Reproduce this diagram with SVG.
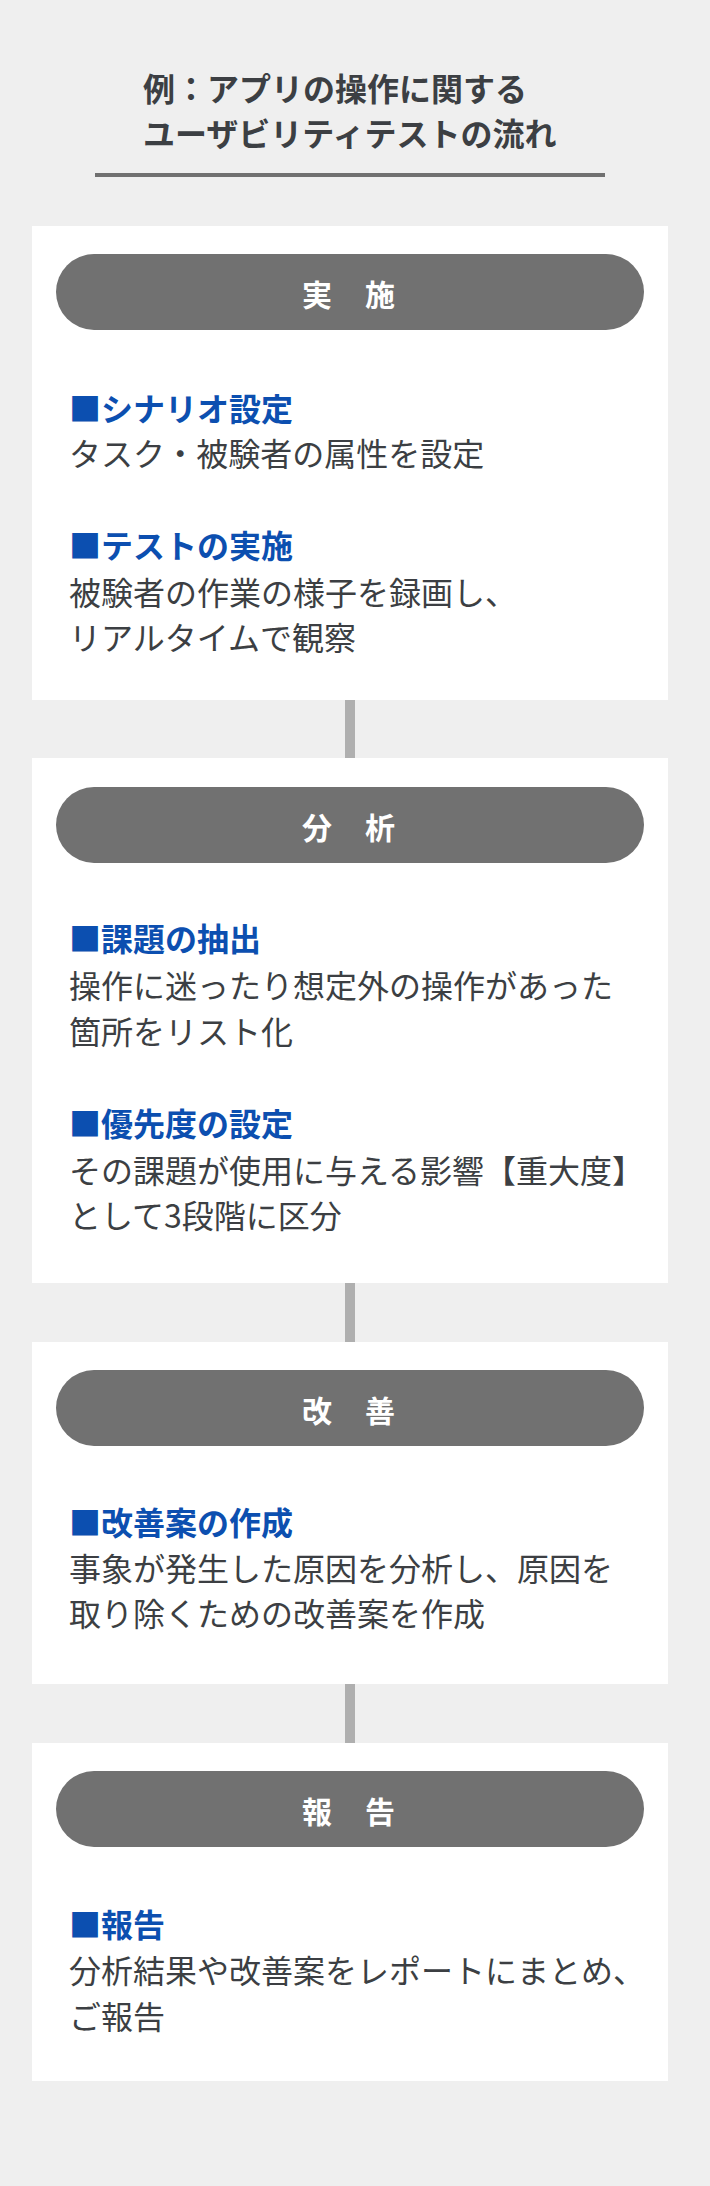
<svg xmlns="http://www.w3.org/2000/svg" width="710" height="2186" viewBox="0 0 710 2186">
<style>
.bg{fill:#efefef}
.card{fill:#ffffff}
.pill{fill:#717171}
.plabel{font-family:"Noto Sans CJK JP","Noto Sans",sans-serif;font-size:30px;font-weight:700;fill:#ffffff;letter-spacing:1.5px}
.title{font-family:"Noto Sans CJK JP","Noto Sans",sans-serif;font-size:32px;font-weight:700;fill:#3c3f43}
.head{font-family:"Noto Sans CJK JP","Noto Sans",sans-serif;font-size:32px;font-weight:700;fill:#0c4fb0}
.body{font-family:"Noto Sans CJK JP","Noto Sans",sans-serif;font-size:32px;font-weight:400;fill:#3c3f43}
.conn{stroke:#afafaf;stroke-width:10}
</style>
<rect class="bg" x="0" y="0" width="710" height="2186"/>
<g id="title">
<text class="title" x="143" y="101">例：アプリの操作に関する</text>
<text class="title" x="143" y="146">ユーザビリティテストの流れ</text>
<rect x="95" y="173" width="510" height="4" fill="#707070"/>
</g>
<g id="connectors">
<line class="conn" x1="350" y1="700" x2="350" y2="758"/>
<line class="conn" x1="350" y1="1283" x2="350" y2="1342"/>
<line class="conn" x1="350" y1="1684" x2="350" y2="1743"/>
</g>
<g id="step1">
<rect class="card" x="32" y="226" width="636" height="474"/>
<rect class="pill" x="56" y="254" width="588" height="76" rx="38"/>
<text class="plabel" x="302" y="306">実　施</text>
<text class="head" x="69" y="421">■シナリオ設定</text>
<text class="body" x="69" y="466">タスク・被験者の属性を設定</text>
<text class="head" x="69" y="558">■テストの実施</text>
<text class="body" x="69" y="605">被験者の作業の様子を録画し、</text>
<text class="body" x="69" y="650">リアルタイムで観察</text>
</g>
<g id="step2">
<rect class="card" x="32" y="758" width="636" height="525"/>
<rect class="pill" x="56" y="787" width="588" height="76" rx="38"/>
<text class="plabel" x="302" y="839">分　析</text>
<text class="head" x="69" y="951">■課題の抽出</text>
<text class="body" x="69" y="998">操作に迷ったり想定外の操作があった</text>
<text class="body" x="69" y="1044">箇所をリスト化</text>
<text class="head" x="69" y="1136">■優先度の設定</text>
<text class="body" x="69" y="1183">その課題が使用に与える影響【重大度】</text>
<text class="body" x="69" y="1228">として3段階に区分</text>
</g>
<g id="step3">
<rect class="card" x="32" y="1342" width="636" height="342"/>
<rect class="pill" x="56" y="1370" width="588" height="76" rx="38"/>
<text class="plabel" x="302" y="1422">改　善</text>
<text class="head" x="69" y="1535">■改善案の作成</text>
<text class="body" x="69" y="1581">事象が発生した原因を分析し、原因を</text>
<text class="body" x="69" y="1626">取り除くための改善案を作成</text>
</g>
<g id="step4">
<rect class="card" x="32" y="1743" width="636" height="338"/>
<rect class="pill" x="56" y="1771" width="588" height="76" rx="38"/>
<text class="plabel" x="302" y="1823">報　告</text>
<text class="head" x="69" y="1937">■報告</text>
<text class="body" x="69" y="1983">分析結果や改善案をレポートにまとめ、</text>
<text class="body" x="69" y="2029">ご報告</text>
</g>
</svg>
